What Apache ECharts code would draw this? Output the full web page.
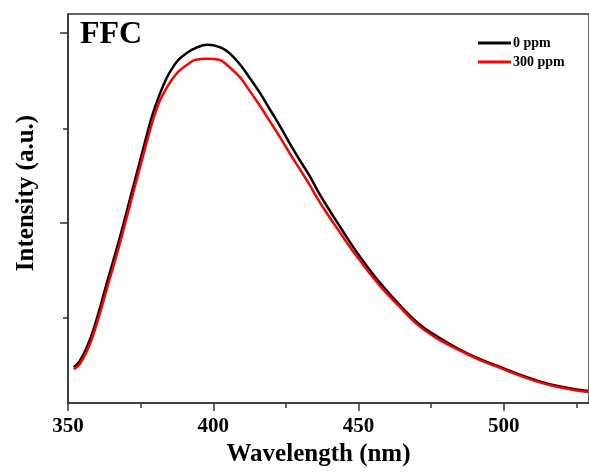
<!DOCTYPE html>
<html>
<head>
<meta charset="utf-8">
<script src="https://cdn.jsdelivr.net/npm/echarts@6/dist/echarts.min.js"></script>
<style>
html,body{margin:0;padding:0;background:#fff;}
#chart{width:589px;height:472px;}
</style>
</head>
<body>
<div id="chart"></div>
<script>
// Wavelength (nm) and intensity (a.u.)
const black0ppm = [
  [352,36],[354,42],[356.5,56],[359,76],[363.5,122],[368,168],[372.5,218],[377,268],
  [379,289],[381.5,310],[384,327],[386,337],[388,345],[391,352],[394,357],[398,360],
  [402,358],[405,353],[409,341],[412,329],[416,312],[419.5,295],[423,278],[426.5,260],
  [430,243],[433,229],[436,213],[439.5,196],[443,180],[446.5,164],[450,149],
  [457,122],[464,99],[471,79],[477.5,66],[484,55],[491,45],[498,37],[505,29],
  [512,22],[518.5,17],[524,14],[529,12]
];
const red300ppm = [
  [352,34],[354,39],[356.5,52],[359,71],[363.5,116],[368,162],[372.5,212],[377,261],
  [379,282],[381.5,303],[384,317],[386,326],[388,333],[391,340],[394,345],[398,346],
  [402,345],[405,339],[409,328],[412,316],[416,299],[419.5,283],[423,267],[426.5,250],
  [430,234],[433,220],[436,205],[439.5,189],[443,174],[446.5,159],[450,145],
  [457,119],[464,97],[471,77],[477.5,64],[484,54],[491,44],[498,36],[505,28],
  [512,21],[518.5,16],[524,13],[529,11]
];
const seriesNames = ['0 ppm','300 ppm'];
const xMajorTicks = [350,400,450,500];
const xMinorTicks = [375,425,475,525];
const yMajorTicks = [181,372];
const yMinorTicks = [86,276];
const xRange = [350, 529.3];
const yRange = [0, 391];

const serif = '"Liberation Serif","Times New Roman",serif';
const axisColor = '#333';
const chart = echarts.init(document.getElementById('chart'));
chart.setOption({
  animation: false,
  backgroundColor: '#fff',
  title: {
    text: 'FFC', left: 80, top: 19, padding: 0,
    textStyle: {fontFamily: serif, fontWeight: 'bold', fontSize: 32, color: '#000'}
  },
  legend: {
    data: seriesNames,
    orient: 'vertical', left: 478, top: 36, padding: 0,
    itemGap: 5, itemWidth: 33, itemHeight: 3, icon: 'rect',
    textStyle: {fontFamily: serif, fontWeight: 'bold', fontSize: 14, color: '#000', padding: [0,0,0,-3]}
  },
  grid: {left: 68, right: -3, top: 14, bottom: 67, show: true, borderColor: axisColor, borderWidth: 1.5, backgroundColor: 'transparent'},
  xAxis: [
    {
      type: 'value', position: 'bottom', min: xRange[0], max: xRange[1],
      name: 'Wavelength (nm)', nameLocation: 'middle', nameGap: 39,
      nameTextStyle: {fontFamily: serif, fontWeight: 'bold', fontSize: 25, color: '#000', padding: [0,20,0,0]},
      axisLine: {lineStyle: {color: axisColor, width: 1.5}},
      axisTick: {customValues: xMajorTicks, length: 8, lineStyle: {color: axisColor, width: 1.5}},
      axisLabel: {customValues: xMajorTicks, margin: 13, fontFamily: serif, fontWeight: 'bold', fontSize: 21, color: '#000'},
      splitLine: {show: false}
    },
    {
      type: 'value', position: 'bottom', min: xRange[0], max: xRange[1],
      axisLine: {show: false},
      axisTick: {customValues: xMinorTicks, length: 5, lineStyle: {color: axisColor, width: 1.5}},
      axisLabel: {show: false},
      splitLine: {show: false}
    }
  ],
  yAxis: [
    {
      type: 'value', position: 'left', min: yRange[0], max: yRange[1],
      name: 'Intensity (a.u.)', nameLocation: 'middle', nameGap: 29,
      nameTextStyle: {fontFamily: serif, fontWeight: 'bold', fontSize: 25, color: '#000', padding: [0,0,0,31]},
      axisLine: {show: true, lineStyle: {color: axisColor, width: 1.5}},
      axisTick: {show: true, customValues: yMajorTicks, length: 8, lineStyle: {color: axisColor, width: 1.5}},
      axisLabel: {show: false},
      splitLine: {show: false}
    },
    {
      type: 'value', position: 'left', min: yRange[0], max: yRange[1],
      axisLine: {show: false},
      axisTick: {show: true, customValues: yMinorTicks, length: 5, lineStyle: {color: axisColor, width: 1.5}},
      axisLabel: {show: false},
      splitLine: {show: false}
    }
  ],
  series: [
    {
      name: seriesNames[0], type: 'line', data: black0ppm, showSymbol: false,
      smooth: 0.4,
      lineStyle: {color: '#000', width: 2.5}, itemStyle: {color: '#000'}, z: 2
    },
    {
      name: seriesNames[1], type: 'line', data: red300ppm, showSymbol: false,
      smooth: 0.4,
      lineStyle: {color: '#ff0000', width: 2.5}, itemStyle: {color: '#ff0000'}, z: 3
    }
  ]
});
</script>
</body>
</html>
